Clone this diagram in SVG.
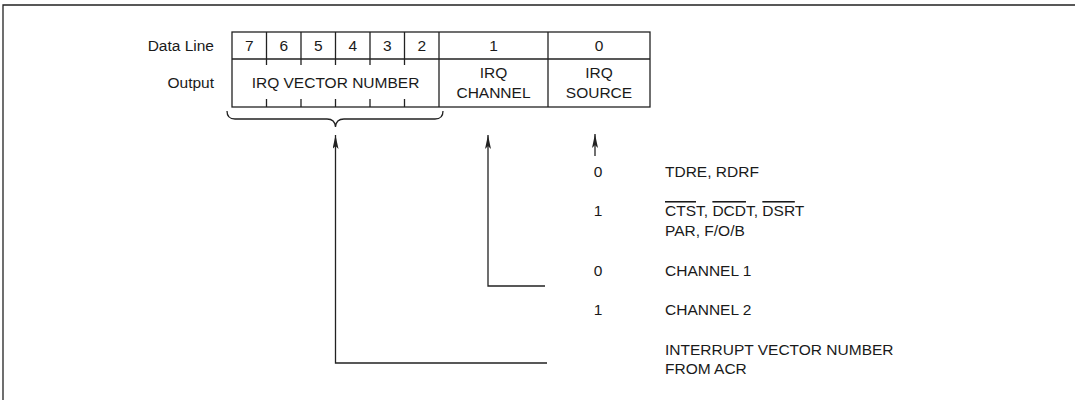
<svg xmlns="http://www.w3.org/2000/svg" width="1075" height="400" viewBox="0 0 1075 400">
<defs>
<style>
.t{font-family:"Liberation Sans",Arial,sans-serif;font-size:15.5px;fill:#1a1a1a}
.m{text-anchor:middle}
.e{text-anchor:end}
.ln{stroke:#222;stroke-width:1.3;fill:none}
.ov{text-decoration:overline}
</style>
<marker id="ah" viewBox="0 0 14 6" refX="14" refY="3" markerWidth="14" markerHeight="6" markerUnits="userSpaceOnUse" orient="auto">
<path d="M14,3 L0,0 L3,3 L0,6 Z" fill="#222"/>
</marker>
</defs>
<rect width="1075" height="400" fill="#fff"/>
<g id="frame">
<path class="ln" d="M3,400 V5 H1075" stroke-width="1.6"/>
</g>
<g id="labels">
<text class="t e" x="214" y="51">Data Line</text>
<text class="t e" x="214" y="88">Output</text>
</g>
<g id="register">
<rect class="ln" x="232" y="32" width="418" height="75"/>
<path class="ln" d="M232,59 H650 M266.5,32 V65 M301,32 V65 M335.5,32 V65 M370,32 V65 M404.5,32 V65 M439,32 V107 M548,32 V107 M266.5,99 V107 M301,99 V107 M335.5,99 V107 M370,99 V107 M404.5,99 V107"/>
<text class="t m" x="249.25" y="51">7</text>
<text class="t m" x="283.75" y="51">6</text>
<text class="t m" x="318.25" y="51">5</text>
<text class="t m" x="352.75" y="51">4</text>
<text class="t m" x="387.25" y="51">3</text>
<text class="t m" x="421.75" y="51">2</text>
<text class="t m" x="493.5" y="51">1</text>
<text class="t m" x="599" y="51">0</text>
<text class="t m" x="335.5" y="88">IRQ VECTOR NUMBER</text>
<text class="t m" x="493.5" y="78">IRQ</text>
<text class="t m" x="493.5" y="98">CHANNEL</text>
<text class="t m" x="599" y="78">IRQ</text>
<text class="t m" x="599" y="98">SOURCE</text>
</g>
<g id="brace">
<path class="ln" stroke-width="1.6" d="M227,111 Q227,119 235,119 L327,119 Q335,119 335.5,127 Q336,119 344,119 L435,119 Q443,119 443,111"/>
</g>
<g id="connectors">
<path class="ln" d="M547,363 H335.5 V135" marker-end="url(#ah)"/>
<path class="ln" d="M545,286 H488 V135" marker-end="url(#ah)"/>
<path class="ln" d="M595,156 V134" marker-end="url(#ah)"/>
</g>
<g id="source-table">
<text class="t m" x="598" y="177">0</text>
<text class="t" x="665" y="177">TDRE, RDRF</text>
<text class="t m" x="598" y="216">1</text>
<text class="t" x="665" y="216"><tspan class="ov">CTS</tspan>T, <tspan class="ov">DCD</tspan>T, <tspan class="ov">DSR</tspan>T</text>
<text class="t" x="665" y="236">PAR, F/O/B</text>
<text class="t m" x="598" y="276">0</text>
<text class="t" x="665" y="276">CHANNEL 1</text>
<text class="t m" x="598" y="315">1</text>
<text class="t" x="665" y="315">CHANNEL 2</text>
<text class="t" x="665" y="355">INTERRUPT VECTOR NUMBER</text>
<text class="t" x="665" y="374">FROM ACR</text>
</g>
</svg>
